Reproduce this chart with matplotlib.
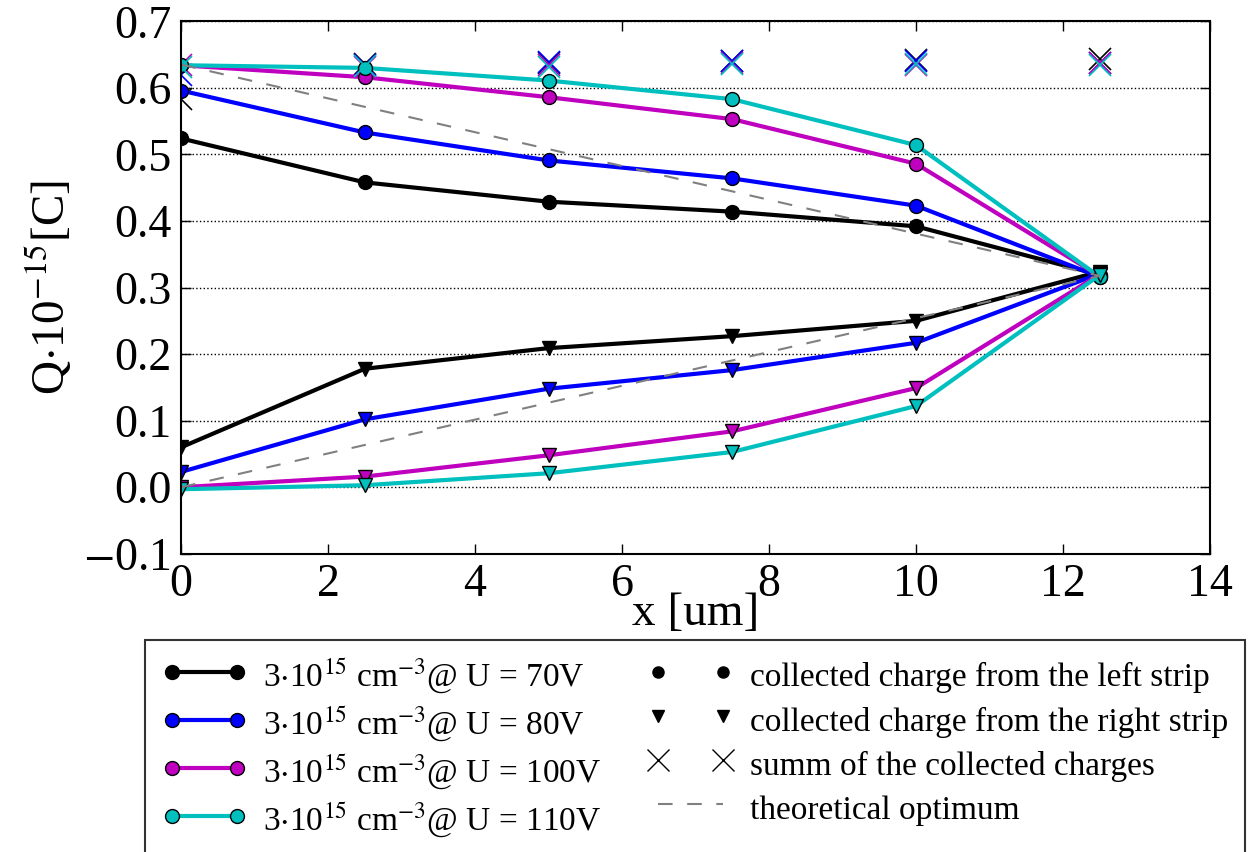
import numpy as np
import matplotlib
matplotlib.use("Agg")
import matplotlib.pyplot as plt
from matplotlib.lines import Line2D

plt.rcParams['font.family'] = ['Liberation Serif', 'DejaVu Serif']
plt.rcParams['mathtext.fontset'] = 'stix'
plt.rcParams['xtick.direction'] = 'in'
plt.rcParams['ytick.direction'] = 'in'
plt.rcParams['xtick.top'] = True
plt.rcParams['ytick.right'] = True

# position of the generated charge between the strips
x = [0, 2.5, 5, 7.5, 10, 12.5]

voltages = ['70V', '80V', '100V', '110V']
colors = ['k', 'b', 'm', 'c']

# charge collected by left / right strip, in 1e-15 C
q_left = [
    [0.524, 0.458, 0.429, 0.414, 0.392, 0.319],
    [0.596, 0.533, 0.491, 0.464, 0.423, 0.316],
    [0.634, 0.616, 0.586, 0.553, 0.486, 0.317],
    [0.634, 0.630, 0.611, 0.583, 0.514, 0.316],
]
q_right = [
    [0.060, 0.178, 0.209, 0.227, 0.250, 0.324],
    [0.023, 0.102, 0.148, 0.176, 0.217, 0.321],
    [0.000, 0.016, 0.048, 0.084, 0.149, 0.320],
    [-0.003, 0.003, 0.021, 0.053, 0.122, 0.319],
]

# linear sharing between the strips
opt_x = [0, 12.5]
opt_left = [0.635, 0.3175]
opt_right = [0.0, 0.3175]

fig = plt.figure(figsize=(12.53, 8.52), dpi=100)
ax = fig.add_axes([0.1445, 0.350, 0.8212, 0.625])

for i in range(len(voltages)):
    ql = np.array(q_left[i])
    qr = np.array(q_right[i])
    ax.plot(x, ql, '-o', color=colors[i], lw=3, markersize=10, mec='k', mew=1)
    ax.plot(x, qr, '-v', color=colors[i], lw=3, markersize=10, mec='k', mew=1)
    ax.plot(x, ql + qr, 'x', color=colors[i], markersize=16, mew=1.2)

ax.plot(opt_x, opt_left, '--', color='0.5', lw=1.5, dashes=(7, 7))
ax.plot(opt_x, opt_right, '--', color='0.5', lw=1.5, dashes=(7, 7))

ax.set_xlim(0, 14)
ax.set_ylim(-0.1, 0.7)
ax.set_xticks(range(0, 15, 2))
yt = np.arange(-0.1, 0.71, 0.1)
ax.set_yticks(yt)
ax.set_yticklabels(['%.1f' % v if v > -0.05 else '$-$0.1' for v in yt])
ax.yaxis.grid(True, linestyle=':', color='k', lw=1)
ax.tick_params(labelsize=33, length=7, width=1, pad=7)
for s in ax.spines.values():
    s.set_linewidth(1.5)

ax.set_xlabel('x [um]', fontsize=34, labelpad=-10)
ax.set_ylabel(r'Q$\cdot$10$^{-15}$[C]', fontsize=34, labelpad=6)

handles = []
labels = []
for i in range(len(voltages)):
    handles.append(Line2D([], [], color=colors[i], lw=3, marker='o', markersize=10,
                          mec='k', mew=1))
    labels.append(r'3$\cdot$10$^{15}$ cm$^{-3}$@ U = ' + voltages[i])
handles += [
    Line2D([], [], ls='none', marker='o', color='k', markersize=8),
    Line2D([], [], ls='none', marker='v', color='k', markersize=8),
    Line2D([], [], ls='none', marker='x', color='k', markersize=16, mew=1),
    Line2D([], [], ls='--', color='0.5', lw=1.5, dashes=(7, 7)),
]
labels += ['collected charge from the left strip',
           'collected charge from the right strip',
           'summ of the collected charges',
           'theoretical optimum']

leg = fig.legend(handles, labels, ncol=2, numpoints=2, fontsize=24,
                 loc='upper center', bbox_to_anchor=(0.5547, 0.249),
                 borderaxespad=0, borderpad=0.5, frameon=True, fancybox=False,
                 edgecolor='k', handlelength=2.55, handletextpad=0.5,
                 columnspacing=1.4, handleheight=1.25, labelspacing=0.25)
leg.get_frame().set_linewidth(1.5)

fig.savefig('out.png', dpi=100)
